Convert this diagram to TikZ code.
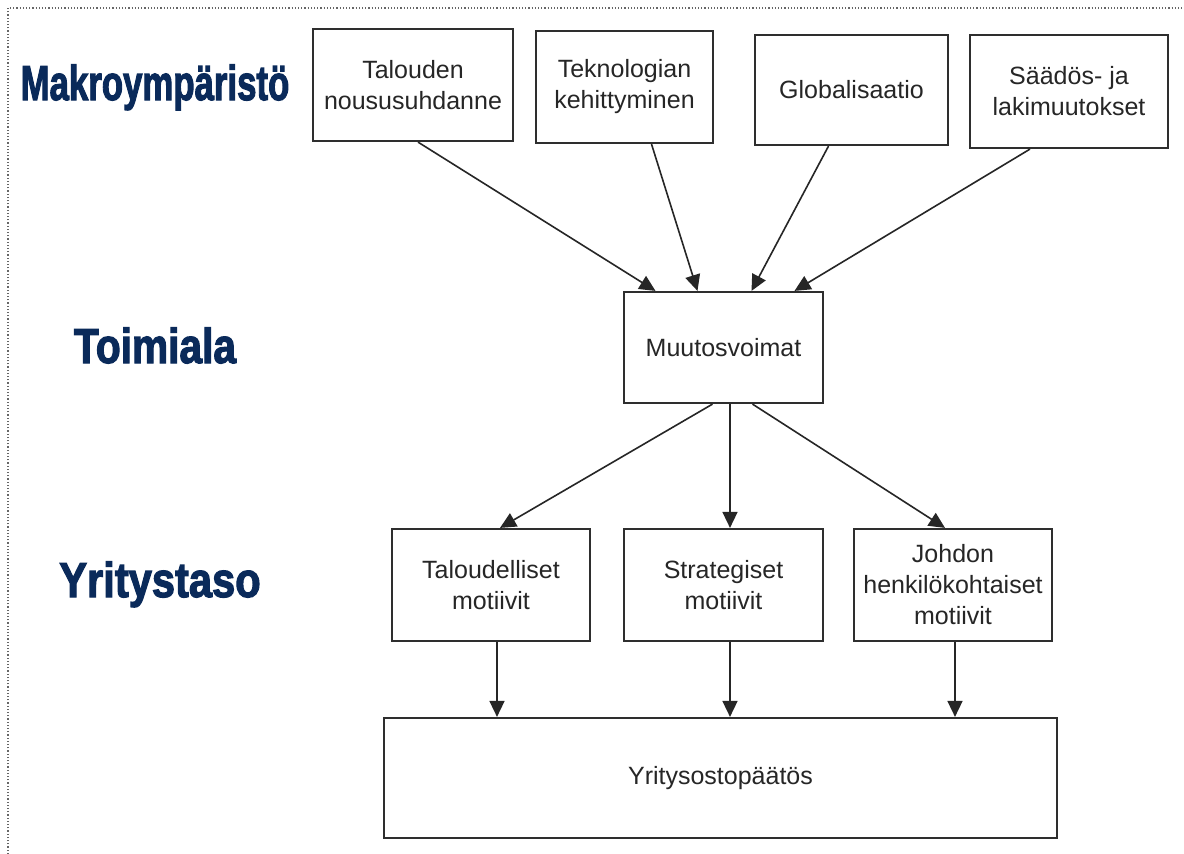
\documentclass[tikz,border=0pt]{standalone}
\usepackage{fontspec}
\setmainfont{Liberation Sans}
\newfontfamily\heavyfont[FakeBold=2.6]{Liberation Sans Bold}
\usetikzlibrary{arrows.meta}
\definecolor{navy}{HTML}{0A2A5A}
\definecolor{boxline}{HTML}{2E2E2E}
\tikzset{
  box/.style={draw=boxline, line width=2.2pt, fill=white, inner sep=0pt, align=center,
    font=\fontsize{25}{31}\selectfont, text=black!85},
  arr/.style={draw=black!85, line width=1.6pt, -{Triangle[length=16pt,width=15pt]}},
  lvl/.style={font=\heavyfont\fontsize{49}{50}\selectfont, text=navy, anchor=base, inner sep=0pt},
  frame/.style={draw=black!60, line width=1.2pt, dotted}
}
\begin{document}
\begin{tikzpicture}[x=1pt,y=-1pt]
\useasboundingbox[fill=white] (0,0) rectangle (1184,854);
\coordinate (fa) at (8,854);
\coordinate (fb) at (8,8);
\coordinate (fc) at (1184,8);
\draw[frame] (fa) -- (fb) -- (fc);

% level labels
\node[lvl, xscale=0.71] (l1) at (155,100) {Makroympäristö};
\node[lvl, xscale=0.83] (l2) at (155,363) {Toimiala};
\node[lvl, xscale=0.85] (l3) at (160,597) {Yritystaso};

% top boxes
\node[box, minimum width=200pt, minimum height=112pt] (b1) at (413,85) {Talouden\\noususuhdanne};
\node[box, minimum width=177pt, minimum height=112pt] (b2) at (624.5,87) {Teknologian\\kehittyminen};
\node[box, minimum width=193pt, minimum height=110pt] (b3) at (851.5,90) {Globalisaatio};
\node[box, minimum width=198pt, minimum height=113pt] (b4) at (1069,91.5) {Säädös- ja\\lakimuutokset};

% middle
\node[box, minimum width=199pt, minimum height=111pt] (mv) at (723.5,347.5) {Muutosvoimat};

% motives
\node[box, minimum width=198pt, minimum height=112pt] (m1) at (491,585) {Taloudelliset\\motiivit};
\node[box, minimum width=199pt, minimum height=112pt] (m2) at (723.5,585) {Strategiset\\motiivit};
\node[box, minimum width=198pt, minimum height=112pt] (m3) at (953,585) {Johdon\\henkilökohtaiset\\motiivit};

% bottom
\node[box, minimum width=673pt, minimum height=120pt] (yb) at (720.5,778) {Yritysostopäätös};

% arrows into Muutosvoimat
\draw[arr] ([xshift=5pt]b1.south) -- ([xshift=-68pt]mv.north);
\draw[arr] ([xshift=27pt]b2.south) -- ([xshift=-26pt]mv.north);
\draw[arr] ([xshift=-23pt]b3.south) -- ([xshift=28pt]mv.north);
\draw[arr] ([xshift=-39pt]b4.south) -- ([xshift=71pt]mv.north);

% arrows to motives
\draw[arr] ([xshift=-11pt]mv.south) -- ([xshift=9pt]m1.north);
\draw[arr] ([xshift=6.5pt]mv.south) -- ([xshift=6.5pt]m2.north);
\draw[arr] ([xshift=29pt]mv.south) -- ([xshift=-8pt]m3.north);

% arrows to decision
\coordinate (s1) at ([xshift=6pt]m1.south);
\coordinate (s2) at ([xshift=6.5pt]m2.south);
\coordinate (s3) at ([xshift=2pt]m3.south);
\draw[arr] (s1) -- (s1 |- yb.north);
\draw[arr] (s2) -- (s2 |- yb.north);
\draw[arr] (s3) -- (s3 |- yb.north);
\end{tikzpicture}
\end{document}
